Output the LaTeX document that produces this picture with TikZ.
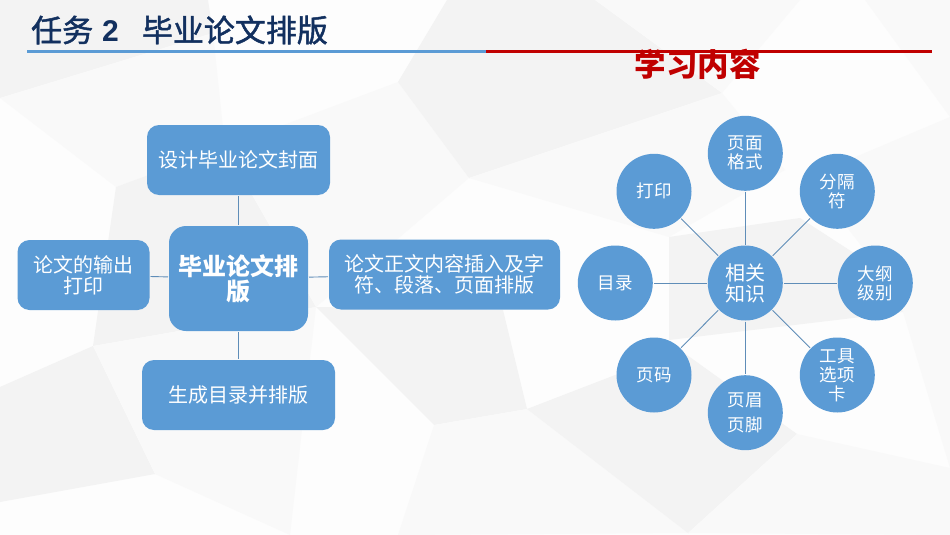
\documentclass[tikz,border=0pt]{standalone}
\usepackage{fontspec}
\setmainfont{Noto Sans CJK SC}
\newfontfamily\headfont[FakeBold=1.5]{Noto Sans CJK SC}
\newfontfamily\numfont{Liberation Sans}
\definecolor{nodeblue}{HTML}{5B9BD5}
\definecolor{linkblue}{HTML}{5F8DB8}
\definecolor{titleblue}{HTML}{12305F}
\definecolor{titlered}{HTML}{C00000}
\definecolor{bgbase}{HTML}{FDFDFD}
\definecolor{bgone}{HTML}{F3F3F3}
\definecolor{bgtwo}{HTML}{F9F9F9}

\begin{document}
\begin{tikzpicture}[x=1pt,y=-1pt]
    \tikzstyle{shade one}=[fill=bgone]
    \tikzstyle{shade two}=[fill=bgtwo]
    \tikzstyle{box}=[fill=nodeblue,text=white,rounded corners=12pt,align=center,inner sep=0pt,outer sep=1pt,font=\fontsize{20}{21}\selectfont]
    \tikzstyle{hub}=[box,rounded corners=17pt,font=\fontsize{24}{25}\selectfont\bfseries]
    \tikzstyle{round hub}=[circle,fill=nodeblue,text=white,align=center,inner sep=0pt,outer sep=1pt,minimum size=75pt,font=\fontsize{20}{21}\selectfont]
    \tikzstyle{leaf}=[round hub,font=\fontsize{17.5}{19}\selectfont]
    \tikzstyle{link}=[draw=linkblue,line width=0.9pt]
    \useasboundingbox (0,0) rectangle (950,535);
    % background
    \fill[bgbase] (0,0) rectangle (950,535);
    \fill[shade one] (0,0) -- (208,0) -- (213,33) -- (0,98) -- cycle;
    \fill[shade two] (0,98) -- (213,33) -- (225,147) -- (116,187) -- cycle;
    \fill[shade one] (116,187) -- (225,147) -- (255,200) -- (316,307) -- (93,346) -- cycle;
    \fill[shade two] (225,147) -- (398,82) -- (469,178) -- (400,237) -- (316,307) -- (255,200) -- cycle;
    \fill[shade one] (447,0) -- (595,0) -- (722,93) -- (469,178) -- (398,82) -- cycle;
    \fill[shade two] (595,0) -- (800,0) -- (722,93) -- cycle;
    \fill[shade two] (469,178) -- (722,93) -- (785,170) -- (669,237) -- cycle;
    \fill[shade two] (865,0) -- (950,0) -- (950,117) -- cycle;
    \fill[shade two] (808,177) -- (950,117) -- (950,323) -- (903,312) -- (880,270) -- cycle;
    \fill[shade one] (669,237) -- (800,218) -- (880,270) -- (903,312) -- (669,340) -- cycle;
    \fill[shade one] (316,307) -- (503,310) -- (527,409) -- (434,425) -- cycle;
    \fill[shade one] (0,387) -- (93,346) -- (155,474) -- (0,502) -- cycle;
    \fill[shade two] (93,346) -- (316,307) -- (290,535) -- (155,474) -- cycle;
    \fill[shade two] (434,425) -- (527,409) -- (688,533) -- (398,535) -- cycle;
    \fill[shade one] (527,409) -- (680,350) -- (797,434) -- (688,533) -- cycle;
    \fill[shade two] (688,533) -- (797,434) -- (950,468) -- (950,535) -- cycle;
    \fill[shade two] (903,312) -- (950,323) -- (950,468) -- cycle;
    % heading
    \node[anchor=west,inner sep=0pt] (heading) at (31,30) {\fontsize{31}{31}\headfont\textcolor{titleblue}{任务\hspace{9pt}{\numfont\bfseries\fontsize{30}{30}\selectfont 2}\hspace{23pt}毕业论文排版}};
    \coordinate (rule left) at (27,52);
    \coordinate (rule mid) at (486,52);
    \coordinate (rule right) at (932,52);
    \draw[nodeblue,line width=3pt] (rule left) -- (rule mid);
    \draw[titlered,line width=3pt] (rule mid) -- (rule right);
    \node (contents) at (697.5,64) {\fontsize{31.5}{31.5}\selectfont\bfseries\textcolor{titlered}{学习内容}};
    % left part
    \node[hub,minimum width=139pt,minimum height=105pt] (thesis) at (238.5,278.5) {毕业论文排\\版};
    \node[box,minimum width=183pt,minimum height=70pt] (cover) at (238.5,160) {设计毕业论文封面};
    \node[box,minimum width=132pt,minimum height=70pt] (output) at (83.5,275) {论文的输出\\打印};
    \node[box,minimum width=231pt,minimum height=70pt] (body) at (444.5,274.5) {论文正文内容插入及字\\符、段落、页面排版};
    \node[box,minimum width=193pt,minimum height=70pt] (toc) at (238.5,395) {生成目录并排版};
    \draw[link] (thesis) -- (cover);
    \draw[link] (thesis) -- (output);
    \draw[link] (thesis) -- (body);
    \draw[link] (thesis) -- (toc);
    % right part
    \node[round hub] (know) at (745.3,283) {相关\\知识};
    \node[leaf] (page) at (745.3,153.3) {页面\\格式};
    \node[leaf] (breaks) at (837.3,191.3) {分隔\\符};
    \node[leaf] (outline) at (875.3,283) {大纲\\级别};
    \node[leaf] (tools) at (837.3,375) {工具\\选项\\卡};
    \node[leaf] (header) at (745.3,412.7) {页眉\\[6pt]页脚};
    \node[leaf] (pageno) at (654,375) {页码};
    \node[leaf] (contlist) at (615.3,283) {目录};
    \node[leaf] (printing) at (654,191.3) {打印};
    \draw[link] (know) -- (page);
    \draw[link] (know) -- (breaks);
    \draw[link] (know) -- (outline);
    \draw[link] (know) -- (tools);
    \draw[link] (know) -- (header);
    \draw[link] (know) -- (pageno);
    \draw[link] (know) -- (contlist);
    \draw[link] (know) -- (printing);
\end{tikzpicture}
\end{document}
